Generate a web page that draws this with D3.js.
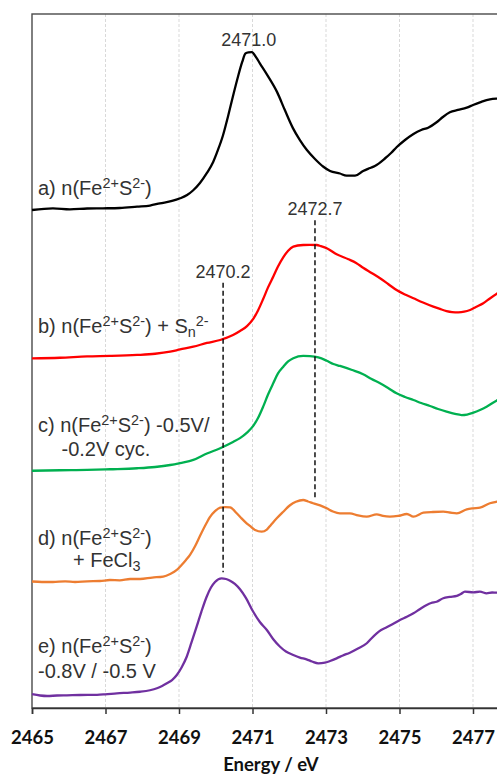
<!DOCTYPE html>
<html>
<head>
<meta charset="utf-8">
<script src="https://cdn.jsdelivr.net/npm/d3@7/dist/d3.min.js"></script>
<style>
  html, body { margin: 0; padding: 0; background: #fff; overflow: hidden; }
  svg { display: block; }
</style>
</head>
<body>
<svg id="chart" width="497" height="776"></svg>
<script>
// S K-edge XANES spectra, stacked with vertical offsets (normalized absorbance units)
// Each point: [energy (eV), offset absorbance]
const spectrumA = [[2465.00,5.023],[2465.57,5.040],[2466.03,5.030],[2466.50,5.038],[2466.93,5.040],[2467.39,5.043],[2467.86,5.057],[2468.21,5.068],[2468.48,5.090],[2468.81,5.114],[2469.03,5.141],[2469.22,5.174],[2469.38,5.220],[2469.57,5.296],[2469.76,5.397],[2469.93,5.508],[2470.06,5.629],[2470.20,5.780],[2470.33,5.962],[2470.47,6.173],[2470.61,6.375],[2470.72,6.516],[2470.81,6.602],[2470.89,6.614],[2470.98,6.616],[2471.10,6.562],[2471.20,6.503],[2471.42,6.374],[2471.67,6.212],[2471.88,6.031],[2472.10,5.849],[2472.29,5.728],[2472.48,5.628],[2472.70,5.538],[2472.92,5.462],[2473.11,5.417],[2473.38,5.391],[2473.56,5.369],[2473.79,5.369],[2474.01,5.417],[2474.20,5.447],[2474.33,5.467],[2474.61,5.545],[2474.77,5.598],[2474.92,5.656],[2475.15,5.729],[2475.38,5.790],[2475.59,5.830],[2475.78,5.853],[2476.01,5.908],[2476.18,5.961],[2476.37,6.009],[2476.59,6.032],[2476.83,6.055],[2477.00,6.082],[2477.19,6.109],[2477.46,6.140],[2477.65,6.146],[2477.87,6.148]];

const spectrumB = [[2465.00,3.527],[2465.76,3.533],[2466.50,3.546],[2467.12,3.551],[2467.86,3.561],[2468.35,3.573],[2468.76,3.594],[2469.03,3.616],[2469.39,3.644],[2469.76,3.682],[2470.12,3.712],[2470.47,3.762],[2470.66,3.803],[2470.85,3.852],[2471.02,3.924],[2471.15,4.010],[2471.29,4.125],[2471.42,4.240],[2471.57,4.355],[2471.69,4.450],[2471.84,4.548],[2471.97,4.612],[2472.11,4.653],[2472.38,4.670],[2472.56,4.672],[2472.75,4.670],[2472.86,4.658],[2473.02,4.637],[2473.29,4.576],[2473.61,4.526],[2473.82,4.489],[2474.01,4.441],[2474.24,4.388],[2474.47,4.334],[2474.69,4.277],[2474.92,4.216],[2475.15,4.171],[2475.38,4.133],[2475.64,4.090],[2475.92,4.048],[2476.10,4.025],[2476.28,4.004],[2476.43,3.994],[2476.60,3.991],[2476.76,3.997],[2476.92,4.015],[2477.08,4.045],[2477.28,4.082],[2477.46,4.131],[2477.64,4.176],[2477.87,4.226]];

const spectrumC = [[2465.00,2.393],[2465.76,2.398],[2466.50,2.401],[2467.12,2.408],[2467.86,2.418],[2468.35,2.431],[2468.76,2.451],[2469.03,2.471],[2469.39,2.502],[2469.76,2.567],[2470.12,2.620],[2470.47,2.683],[2470.66,2.722],[2470.85,2.778],[2471.02,2.845],[2471.15,2.925],[2471.29,3.040],[2471.42,3.160],[2471.57,3.280],[2471.69,3.372],[2471.84,3.443],[2471.97,3.495],[2472.11,3.527],[2472.38,3.551],[2472.56,3.549],[2472.79,3.537],[2473.02,3.503],[2473.20,3.470],[2473.38,3.450],[2473.71,3.409],[2474.01,3.366],[2474.24,3.318],[2474.47,3.275],[2474.69,3.228],[2474.92,3.174],[2475.15,3.137],[2475.38,3.107],[2475.59,3.076],[2475.83,3.046],[2476.05,3.016],[2476.28,2.989],[2476.51,2.966],[2476.69,2.955],[2476.84,2.960],[2477.01,2.979],[2477.19,3.006],[2477.37,3.039],[2477.64,3.100],[2477.87,3.147]];

const spectrumD = [[2465.00,1.276],[2465.27,1.271],[2465.57,1.271],[2465.90,1.278],[2466.17,1.271],[2466.50,1.278],[2466.85,1.281],[2467.12,1.291],[2467.39,1.288],[2467.67,1.301],[2467.94,1.301],[2468.27,1.316],[2468.57,1.326],[2468.76,1.352],[2468.94,1.392],[2469.07,1.442],[2469.19,1.493],[2469.30,1.545],[2469.44,1.634],[2469.57,1.735],[2469.75,1.866],[2469.84,1.925],[2469.98,1.985],[2470.12,2.020],[2470.26,2.027],[2470.39,2.024],[2470.57,1.964],[2470.69,1.917],[2470.84,1.863],[2470.93,1.836],[2471.07,1.795],[2471.25,1.778],[2471.39,1.800],[2471.50,1.846],[2471.66,1.913],[2471.83,1.977],[2472.02,2.045],[2472.18,2.080],[2472.38,2.098],[2472.51,2.083],[2472.65,2.065],[2472.84,2.043],[2473.02,2.014],[2473.19,1.982],[2473.38,1.964],[2473.65,1.964],[2473.87,1.942],[2474.11,1.930],[2474.38,1.954],[2474.55,1.937],[2474.74,1.930],[2474.96,1.937],[2475.20,1.957],[2475.38,1.930],[2475.65,1.970],[2475.91,1.977],[2476.19,1.980],[2476.37,1.972],[2476.56,1.964],[2476.83,2.004],[2477.00,2.014],[2477.19,2.020],[2477.46,2.065],[2477.65,2.081],[2477.87,2.093]];

const spectrumE = [[2465.00,0.139],[2465.22,0.126],[2465.41,0.121],[2465.68,0.126],[2465.95,0.128],[2466.31,0.131],[2466.77,0.133],[2466.99,0.138],[2467.31,0.148],[2467.67,0.156],[2467.94,0.164],[2468.21,0.179],[2468.40,0.199],[2468.54,0.222],[2468.67,0.249],[2468.81,0.282],[2468.94,0.333],[2469.07,0.409],[2469.21,0.517],[2469.34,0.661],[2469.48,0.820],[2469.61,0.973],[2469.75,1.120],[2469.87,1.215],[2469.98,1.271],[2470.16,1.308],[2470.28,1.301],[2470.39,1.284],[2470.52,1.251],[2470.66,1.197],[2470.82,1.110],[2471.02,0.971],[2471.20,0.867],[2471.39,0.787],[2471.56,0.696],[2471.75,0.618],[2471.91,0.570],[2472.11,0.535],[2472.29,0.509],[2472.47,0.491],[2472.62,0.469],[2472.79,0.451],[2472.97,0.457],[2473.11,0.474],[2473.29,0.501],[2473.46,0.530],[2473.65,0.558],[2473.87,0.600],[2474.11,0.653],[2474.22,0.696],[2474.38,0.753],[2474.50,0.787],[2474.65,0.814],[2474.82,0.847],[2475.01,0.888],[2475.20,0.920],[2475.38,0.955],[2475.56,0.999],[2475.74,1.039],[2475.86,1.059],[2476.01,1.072],[2476.19,1.107],[2476.37,1.120],[2476.56,1.130],[2476.67,1.150],[2476.78,1.173],[2477.01,1.167],[2477.19,1.173],[2477.37,1.157],[2477.52,1.165],[2477.65,1.163],[2477.87,1.165]];

const spectra = [spectrumA, spectrumB, spectrumC, spectrumD, spectrumE];
const seriesColors = ["#000000", "#ff0000", "#00b050", "#ed7d31", "#7030a0"];

// Series labels: lines made of [text, style] runs (style: "" normal, "sup", "sub")
const seriesLabels = [
  [[["a) n(Fe",""],["2+","sup"],["S",""],["2-","sup"],[")",""]]],
  [[["b) n(Fe",""],["2+","sup"],["S",""],["2-","sup"],[") + S",""],["n","sub"],["2-","sup"]]],
  [[["c) n(Fe",""],["2+","sup"],["S",""],["2-","sup"],[") -0.5V/",""]], [["-0.2V cyc.",""]]],
  [[["d) n(Fe",""],["2+","sup"],["S",""],["2-","sup"],[")",""]], [["+ FeCl",""],["3","sub"]]],
  [[["e) n(Fe",""],["2+","sup"],["S",""],["2-","sup"],[")",""]], [["-0.8V / -0.5 V",""]]]
];

// Reference energies marked with dashed lines, and their vertical extents
const markerEnergies = [2470.2, 2472.7];
const markerTop = [4.29, 4.92];
const markerBottom = [1.37, 2.12];

const xTicks = [2465, 2467, 2469, 2471, 2473, 2475, 2477];
const xDomain = [2465, 2478];
const yDomain = [0, 7];

// ---- layout ----
const margin = { left: 32, top: 14, bottom: 68 };
const plotRight = 509.75;
const H = 776;
const svg = d3.select("#chart");

const x = d3.scaleLinear().domain(xDomain).range([margin.left, plotRight]);
const y = d3.scaleLinear().domain(yDomain).range([H - margin.bottom, margin.top]);

// vertical dashed gridlines
svg.append("g")
  .selectAll("line")
  .data(xTicks.filter(t => t > xDomain[0]))
  .join("line")
  .attr("x1", d => x(d)).attr("x2", d => x(d))
  .attr("y1", y(yDomain[1])).attr("y2", y(yDomain[0]))
  .attr("stroke", "#d9d9d9").attr("stroke-width", 1)
  .attr("stroke-dasharray", "3,2");

// plot frame
svg.append("rect")
  .attr("x", x(xDomain[0])).attr("y", y(yDomain[1]))
  .attr("width", x(xDomain[1]) - x(xDomain[0]))
  .attr("height", y(yDomain[0]) - y(yDomain[1]))
  .attr("fill", "none").attr("stroke", "#4a4a4a").attr("stroke-width", 1.4);

// x axis
const xAxis = d3.axisBottom(x).tickValues(xTicks).tickFormat(d3.format("d"))
  .tickSize(6).tickPadding(17);
const gx = svg.append("g").attr("transform", `translate(0,${y(yDomain[0])})`).call(xAxis);
gx.select(".domain").attr("stroke", "#333").attr("stroke-width", 1.5);
gx.selectAll(".tick line").attr("stroke", "#333").attr("stroke-width", 1.5);
gx.selectAll(".tick text")
  .attr("fill", "#111")
  .style("font-family", "Lato, 'Open Sans', sans-serif")
  .style("font-weight", "bold")
  .style("font-size", "18.5px");

svg.append("text")
  .attr("x", (x(xDomain[0]) + x(xDomain[1])) / 2)
  .attr("y", 771)
  .attr("text-anchor", "middle")
  .attr("fill", "#111")
  .style("font-family", "Lato, 'Open Sans', sans-serif")
  .style("font-weight", "bold")
  .style("font-size", "18.5px")
  .text("Energy / eV");

// spectra
const line = d3.line().x(d => x(d[0])).y(d => y(d[1])).curve(d3.curveMonotoneX);
svg.append("g")
  .selectAll("path")
  .data(spectra)
  .join("path")
  .attr("d", line)
  .attr("fill", "none")
  .attr("stroke", (d, i) => seriesColors[i])
  .attr("stroke-width", 2.3)
  .attr("stroke-linejoin", "round");

// dashed marker lines
svg.append("g")
  .selectAll("line")
  .data(markerEnergies)
  .join("line")
  .attr("x1", d => x(d)).attr("x2", d => x(d))
  .attr("y1", (d, i) => y(markerTop[i]))
  .attr("y2", (d, i) => y(markerBottom[i]))
  .attr("stroke", "#111").attr("stroke-width", 1.5)
  .attr("stroke-dasharray", "5,3");

const labelFont = "'Liberation Sans', Arial, sans-serif";
const fmt = d3.format(".1f");

// marker energy labels
svg.append("g")
  .selectAll("text")
  .data(markerEnergies)
  .join("text")
  .attr("x", d => x(d))
  .attr("y", (d, i) => y(markerTop[i]) - 5)
  .attr("text-anchor", "middle")
  .attr("fill", "#333")
  .style("font-family", labelFont)
  .style("font-size", "18px")
  .text(d => fmt(d));

// peak label of spectrum a
const peakIdx = d3.greatestIndex(spectrumA, d => d[1]);
const peak = spectrumA[peakIdx];
svg.append("text")
  .attr("x", x(peak[0]) - 3)
  .attr("y", y(peak[1]) - 6)
  .attr("text-anchor", "middle")
  .attr("fill", "#333")
  .style("font-family", labelFont)
  .style("font-size", "18px")
  .text(fmt(peak[0]));

// series labels (pixel placement of each text line)
const labelLayout = [
  [[38, 194.5]],
  [[38, 332.5]],
  [[38, 431.5], [61.5, 456]],
  [[38, 545], [73, 567]],
  [[38, 653], [38, 678]]
];
const fs = 20;
seriesLabels.forEach((lines, si) => {
  lines.forEach((runs, li) => {
    const [lx, ly] = labelLayout[si][li];
    const t = svg.append("text")
      .attr("x", lx).attr("y", ly)
      .attr("fill", "#333")
      .style("font-family", labelFont)
      .style("font-size", fs + "px");
    let shift = 0;
    runs.forEach(([txt, style]) => {
      const target = style === "sup" ? -0.33 * fs : style === "sub" ? 0.2 * fs : 0;
      t.append("tspan")
        .attr("dy", target - shift)
        .style("font-size", style ? (0.72 * fs) + "px" : null)
        .text(txt);
      shift = target;
    });
  });
});
</script>
</body>
</html>
